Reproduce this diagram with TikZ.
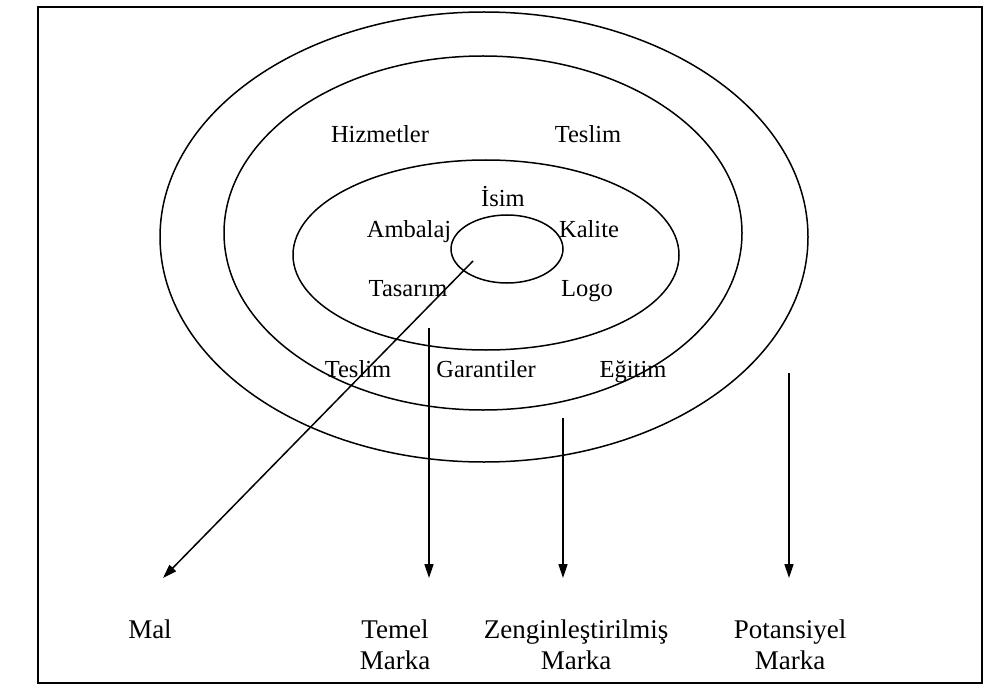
\documentclass[tikz,border=0pt]{standalone}
\usepackage{fontspec}
\setmainfont{Liberation Serif}
\usepackage{tikz}
\usetikzlibrary{arrows.meta}

\begin{document}
\begin{tikzpicture}[x=1pt,y=-1pt,
		>={Triangle[length=14pt,width=9pt]},
		halka/.style={line width=1.5pt},
		etiket/.style={font=\fontsize{24.5}{29}\selectfont,inner sep=0pt,anchor=base},
		alt/.style={font=\fontsize{27}{31}\selectfont,inner sep=0pt,align=center,anchor=base}]
				\useasboundingbox (0,0) rectangle (990,695);
				\draw[line width=2.4pt] (38,7) rectangle (982,683);
				% halkalar (dis -> ic)
				\draw[halka] (484,237) ellipse [x radius=324,y radius=225];
				\draw[halka] (483,233) ellipse [x radius=259,y radius=177];
				\draw[halka] (486,255) ellipse [x radius=193,y radius=95];
				\draw[halka] (507,249) ellipse [x radius=56,y radius=34];
				% yazilar
				\node[etiket] (hizmetler) at (380,143) {Hizmetler};
				\node[etiket] (teslim1) at (588,143) {Teslim};
				\node[etiket] (isim) at (503,207) {İsim};
				\node[etiket] (ambalaj) at (409,237) {Ambalaj};
				\node[etiket] (kalite) at (589,237) {Kalite};
				\node[etiket] (tasarim) at (408,296) {Tasarım};
				\node[etiket] (logo) at (587,296) {Logo};
				\node[etiket] (teslim2) at (358,377) {Teslim};
				\node[etiket] (garantiler) at (486,377) {Garantiler};
				\node[etiket] (egitim) at (633,377) {Eğitim};
				\node[alt] (mal) at (150,638) {Mal};
				\node[alt] (temel) at (395,669) {Temel\\Marka};
				\node[alt] (zengin) at (576,669) {Zenginleştirilmiş\\Marka};
				\node[alt] (potansiyel) at (790,669) {Potansiyel\\Marka};
				% oklar
				\coordinate (a1) at (473,261);
				\coordinate (b1) at (163,578);
				\coordinate (a2) at (429,328);
				\coordinate (b2) at (429,578);
				\coordinate (a3) at (563,418);
				\coordinate (b3) at (563,578);
				\coordinate (a4) at (789,373);
				\coordinate (b4) at (789,578);
				\draw[->,line width=1.5pt] (a1) -- (b1);
				\draw[->,line width=1.5pt] (a2) -- (b2);
				\draw[->,line width=1.5pt] (a3) -- (b3);
				\draw[->,line width=1.5pt] (a4) -- (b4);
			\end{tikzpicture}
\end{document}
